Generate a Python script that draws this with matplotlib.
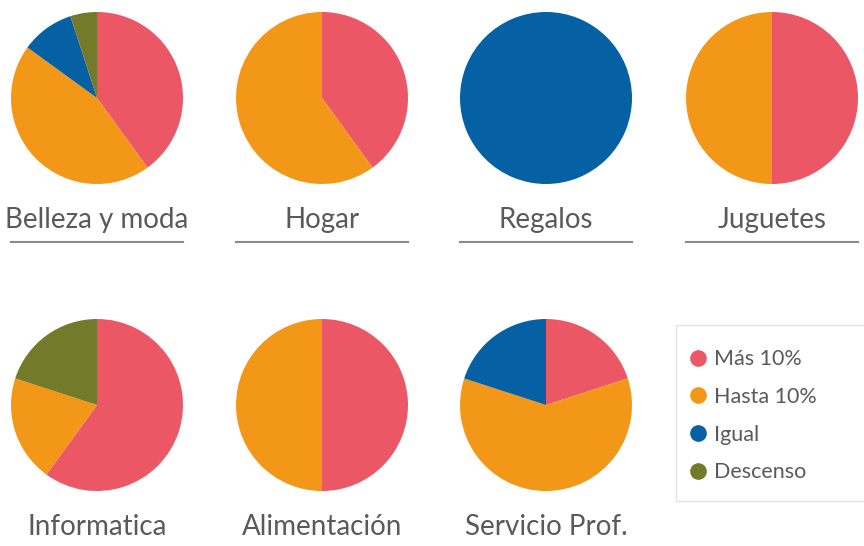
import matplotlib.pyplot as plt
from matplotlib.lines import Line2D
from matplotlib.patches import Rectangle

# categories and shares (%): Más 10%, Hasta 10%, Igual, Descenso
categories = ['Belleza y moda', 'Hogar', 'Regalos', 'Juguetes',
              'Informatica', 'Alimentación', 'Servicio Prof.']
mas_10 = [40, 40, 0, 50, 60, 50, 20]
hasta_10 = [45, 60, 0, 50, 20, 50, 60]
igual = [10, 0, 100, 0, 0, 0, 20]
descenso = [5, 0, 0, 0, 20, 0, 0]

series_labels = ['Más 10%', 'Hasta 10%', 'Igual', 'Descenso']
colors = ['#EC5766', '#F39719', '#0560A4', '#737A2A']
text_color = '#5a5a5a'
font = ['Lato', 'DejaVu Sans']

W, H = 864, 546
fig = plt.figure(figsize=(W / 100, H / 100), dpi=100)

centers_x = [97, 322, 546, 772]
centers_y = [98, 405]
r = 86

for i, name in enumerate(categories):
    cx = centers_x[i % 4]
    cy = centers_y[i // 4]
    ax = fig.add_axes([(cx - r) / W, 1 - (cy + r) / H, 2 * r / W, 2 * r / H])
    vals = [mas_10[i], hasta_10[i], igual[i], descenso[i]]
    keep = [(v, c) for v, c in zip(vals, colors) if v > 0]
    ax.pie([v for v, c in keep], colors=[c for v, c in keep], startangle=90,
           counterclock=False, radius=1, wedgeprops=dict(linewidth=0))
    ax.set_xlim(-1, 1)
    ax.set_ylim(-1, 1)
    ax.set_aspect('equal')
    ax.axis('off')

    ty = cy + 122
    fig.text(cx / W, 1 - ty / H, name, ha='center', va='center',
             fontsize=20, color=text_color, family=font)
    if i < 4:
        fig.add_artist(Line2D([(cx - r) / W, (cx + r) / W],
                              [1 - 242 / H, 1 - 242 / H],
                              color='#8a8a8a', linewidth=1.5))

# legend box
fig.add_artist(Rectangle((676 / W, 1 - 501 / H), 200 / W, 176 / H,
                         transform=fig.transFigure, facecolor='white',
                         edgecolor='#e4e4e4', linewidth=1.0))
handles = [Line2D([], [], linestyle='none', marker='o', markersize=12,
                  markerfacecolor=c, markeredgewidth=0, label=l)
           for c, l in zip(colors, series_labels)]
leg = fig.legend(handles=handles, loc='upper left',
                 bbox_to_anchor=(670 / W, 1 - 330 / H), frameon=False,
                 handlelength=0.8, handletextpad=0.35, labelspacing=0.82,
                 prop=dict(family=font, size=15.5))
for t in leg.get_texts():
    t.set_color(text_color)

plt.savefig('out.png', dpi=100)
plt.close()
